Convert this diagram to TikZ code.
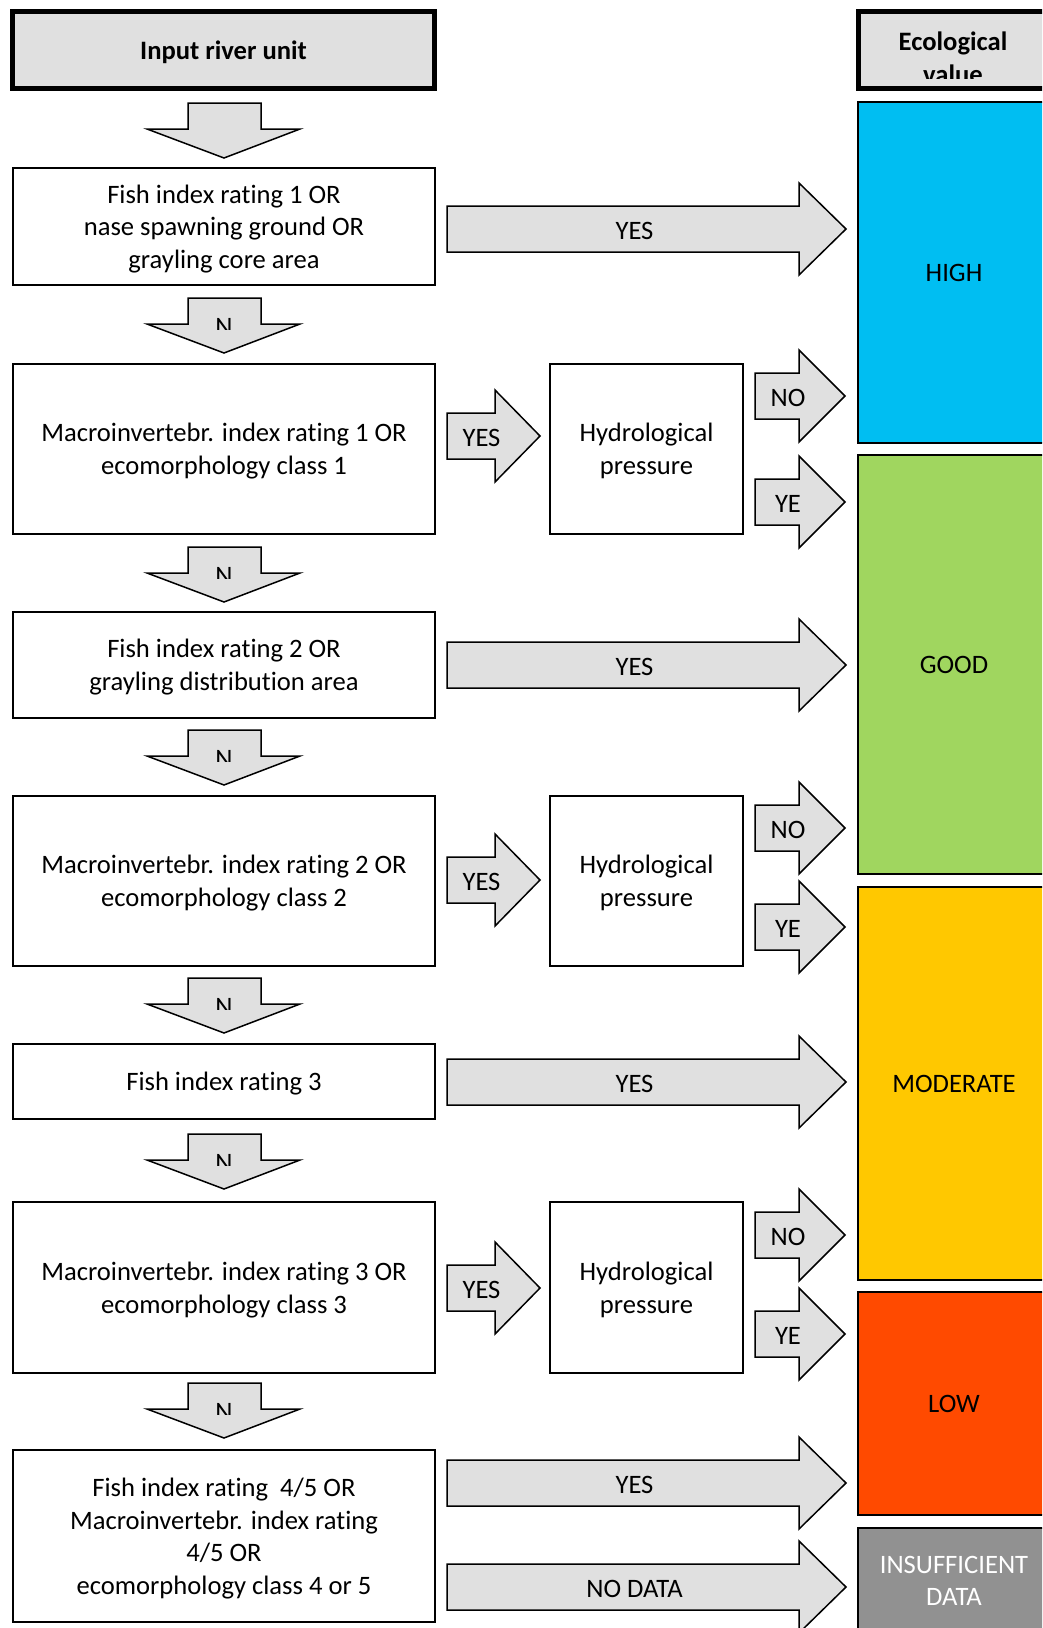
\documentclass[tikz,border=0pt]{standalone}
\usepackage{fontspec}
\setmainfont[Ligatures={NoCommon}]{Carlito}
\usetikzlibrary{positioning}

\definecolor{arrowgray}{HTML}{E0E0E0}
\definecolor{highblue}{HTML}{00BEF2}
\definecolor{goodgreen}{HTML}{A0D65F}
\definecolor{modyellow}{HTML}{FFC800}
\definecolor{lowred}{HTML}{FF4A00}
\definecolor{nodatagray}{HTML}{919191}

\tikzset{
  every node/.style={font=\fontsize{26.6}{32.5}\selectfont},
  headbox/.style={draw, line width=5pt, fill=arrowgray, inner sep=0pt, minimum height=77pt, text depth=-2.5pt, font=\bfseries\fontsize{26.6}{32.5}\selectfont},
  cond/.style={draw, line width=1.5pt, align=center, inner sep=0pt, text depth=-2.5pt, minimum width=422pt},
  hydro/.style={cond, minimum width=193pt},
  value/.style={draw, line width=1.5pt, align=center, inner sep=0pt, text depth=-4pt, minimum width=192pt},
  blockarrow/.style={draw, line width=1.5pt, fill=arrowgray, line join=miter},
  arrowlabel/.style={inner sep=0pt, yshift=-2pt}
}

\newcommand{\downarr}[3]{%
  \draw[blockarrow] (188,#2) -- (261,#2) -- (261,#2+26) -- (300,#2+26) -- (224,#2+55) -- (147,#2+26) -- (188,#2+26) -- cycle;
  \begin{scope}
    \clip (188,#2) rectangle (261,#2+31);
    \node[anchor=base] (#1) at (224,#2+37) {#3};
  \end{scope}}

\newcommand{\rightarr}[6]{%
  \draw[blockarrow] (#2,#5-23) -- (#3,#5-23) -- (#3,#5-46) -- (#4,#5) -- (#3,#5+46) -- (#3,#5+23) -- (#2,#5+23) -- cycle;
  \node[arrowlabel] (#1) at ({(#2+#4)/2-12},#5) {#6};}

\begin{document}
\begin{tikzpicture}[x=1pt,y=-1pt]
  \clip (0,0) rectangle (1042,1628);

  \node[headbox, minimum width=422pt] (input) at (223.5,50) {Input river unit};
  \node[headbox, minimum width=192pt] (eco) at (954.5,50) {};
  \begin{scope}
    \clip (859,13) rectangle (1042,78);
    \node[anchor=base, font=\bfseries\fontsize{26.6}{32.5}\selectfont] (ecotop) at (953,50) {Ecological};
    \node[anchor=base, font=\bfseries\fontsize{26.6}{32.5}\selectfont] (ecobot) at (953,83) {value};
  \end{scope}

  \node[cond, minimum height=117pt] (fish1) at (224,226.5) {Fish index rating 1 OR\\nase spawning ground OR\\grayling core area};
  \node[cond, minimum height=170pt] (macro1) at (224,449) {Macroinvertebr. index rating 1 OR\\ecomorphology class 1};
  \node[hydro, minimum height=170pt] (hyd1) at (646.5,449) {Hydrological\\pressure};
  \node[cond, minimum height=106pt] (fish2) at (224,665) {Fish index rating 2 OR\\grayling distribution area};
  \node[cond, minimum height=170pt] (macro2) at (224,881) {Macroinvertebr. index rating 2 OR\\ecomorphology class 2};
  \node[hydro, minimum height=170pt] (hyd2) at (646.5,881) {Hydrological\\pressure};
  \node[cond, minimum height=75pt] (fish3) at (224,1081.5) {Fish index rating 3};
  \node[cond, minimum height=171pt] (macro3) at (224,1287.5) {Macroinvertebr. index rating 3 OR\\ecomorphology class 3};
  \node[hydro, minimum height=171pt] (hyd3) at (646.5,1287.5) {Hydrological\\pressure};
  \node[cond, minimum height=172pt] (last) at (224,1536) {Fish index rating~ 4/5 OR\\Macroinvertebr. index rating\\4/5 OR\\ecomorphology class 4 or 5};

  \node[value, fill=highblue, minimum height=341pt] (high) at (954,272.5) {HIGH};
  \node[value, fill=goodgreen, minimum height=419pt] (good) at (954,664.5) {GOOD};
  \node[value, fill=modyellow, minimum height=393pt] (moderate) at (954,1083.5) {MODERATE};
  \node[value, fill=lowred, minimum height=223pt] (low) at (954,1403.5) {LOW};
  \node[value, fill=nodatagray, text=white, minimum height=106pt] (insufficient) at (954,1581) {INSUFFICIENT\\DATA};

  \downarr{n0}{103}{}
  \downarr{n1}{298}{N}
  \downarr{n2}{547}{N}
  \downarr{n3}{730}{N}
  \downarr{n4}{978}{N}
  \downarr{n5}{1134}{N}
  \downarr{n6}{1383}{N}

  \rightarr{yes1}{447}{799}{846}{229}{YES}
  \rightarr{yes2}{447}{495}{540}{436}{YES}
  \rightarr{no2}{755}{799}{845}{396}{NO}
  \rightarr{ye2}{755}{799}{845}{502}{YE}
  \rightarr{yes3}{447}{799}{846}{665}{YES}
  \rightarr{yes4}{447}{495}{540}{880}{YES}
  \rightarr{no4}{755}{799}{845}{828}{NO}
  \rightarr{ye4}{755}{799}{845}{927}{YE}
  \rightarr{yes5}{447}{799}{846}{1082}{YES}
  \rightarr{yes6}{447}{495}{540}{1288}{YES}
  \rightarr{no6}{755}{799}{845}{1235}{NO}
  \rightarr{ye6}{755}{799}{845}{1334}{YE}
  \rightarr{yes7}{447}{799}{846}{1483}{YES}
  \rightarr{nodata7}{447}{799}{846}{1587}{NO DATA}
\end{tikzpicture}
\end{document}
